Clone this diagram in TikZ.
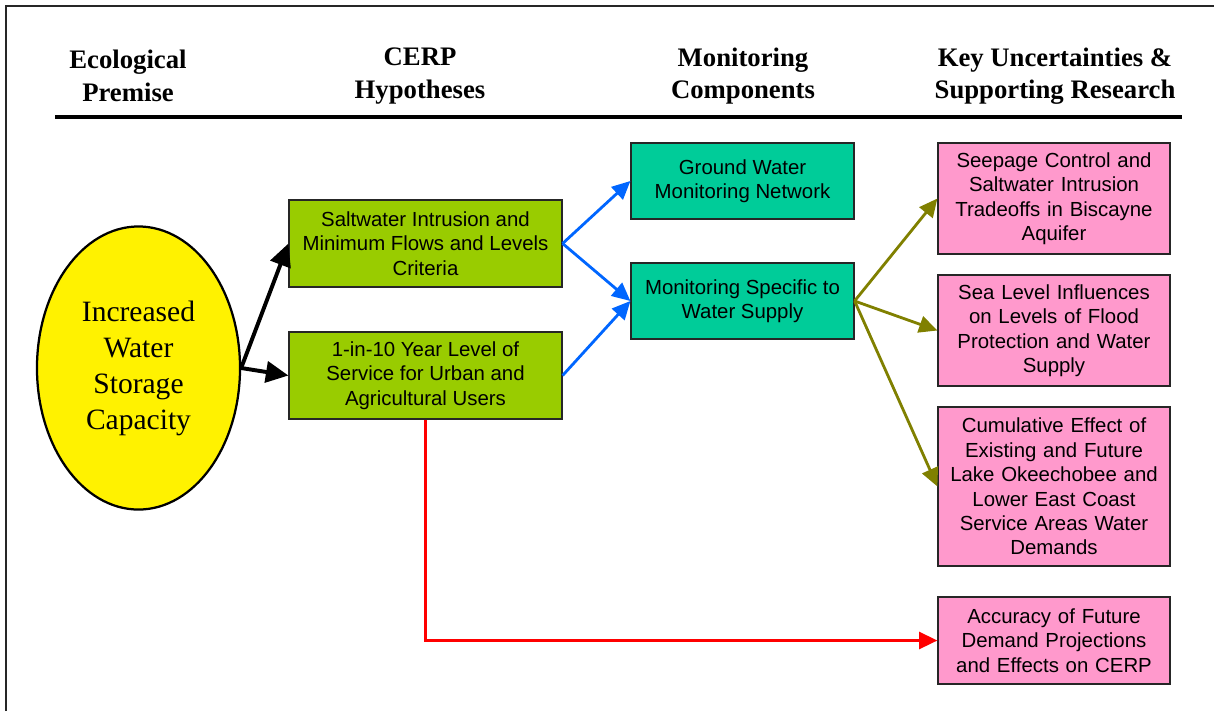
\documentclass[tikz,border=0pt]{standalone}
\usepackage{fontspec}
\setmainfont{Liberation Serif}
\setsansfont{Liberation Sans}
\usetikzlibrary{positioning}
\usetikzlibrary{shapes.geometric}
\usetikzlibrary{arrows.meta}
\usetikzlibrary{calc}

\definecolor{hypgreen}{RGB}{153,204,0}
\definecolor{monteal}{RGB}{0,204,153}
\definecolor{keypink}{RGB}{255,153,204}
\definecolor{arrblue}{RGB}{0,102,255}
\definecolor{arrolive}{RGB}{128,128,0}

\begin{document}
\begin{tikzpicture}[x=0.025cm, y=-0.025cm,
    head/.style={font=\fontsize{19}{23}\selectfont\bfseries, align=center},
    box/.style={draw=black!85, line width=0.8pt, align=center, inner sep=2pt,
                font=\sffamily\fontsize{14.5}{17.4}\selectfont},
    hyp/.style={box, fill=hypgreen, minimum width=6.825cm, minimum height=2.175cm},
    mon/.style={box, fill=monteal, minimum width=5.575cm, minimum height=1.9cm},
    key/.style={box, fill=keypink, minimum width=5.8cm, text width=5.5cm},
    blackarr/.style={-{Triangle[length=16pt,width=15pt]}, line width=2.8pt, black},
    bluearr/.style={-{Triangle[length=13pt,width=12pt]}, line width=2pt, arrblue},
    olivearr/.style={-{Triangle[length=13pt,width=12pt]}, line width=2pt, arrolive},
    redarr/.style={-{Triangle[length=13pt,width=12pt]}, line width=2pt, red}]
%     \draw[help lines](0,0) grid (1214,711);

    \useasboundingbox (0,0) rectangle (1214,711);
    \draw[line width=1.2pt, black!85] (6,711) -- (6,6) -- (1214,6);

    %%%% Headings %%%%

    \node (h1) [head] at (128,76) {Ecological\\Premise};
    \node (h2) [head] at (420,76) {CERP\\Hypotheses};
    \node (h3) [head] at (743,76) {Monitoring\\Components};
    \node (h4) [head] at (1055,76) {Key Uncertainties \&\\Supporting Research};
    \draw[line width=2.2pt] (55,117) -- (1182,117);

    %%%% Premise %%%%

    \node (prem) [ellipse, draw, line width=1.6pt, fill=yellow, inner sep=0pt,
        minimum width=5.075cm, minimum height=7.075cm, align=center,
        font=\fontsize{21}{25.6}\selectfont] at (138.5,368)
        {Increased\\Water\\Storage\\Capacity};

    %%%% Hypotheses %%%%

    \node (hyp1) [hyp] at (425.5,243.5) {Saltwater Intrusion and\\Minimum Flows and Levels\\Criteria};
    \node (hyp2) [hyp] at (425.5,375.5) {1-in-10 Year Level of\\Service for Urban and\\Agricultural Users};

    %%%% Monitoring %%%%

    \node (mon1) [mon] at (742.5,181) {Ground Water\\Monitoring Network};
    \node (mon2) [mon] at (742.5,301) {Monitoring Specific to\\Water Supply};

    %%%% Uncertainties %%%%

    \node (key1) [key, minimum height=2.775cm] at (1054,198.5)
        {Seepage Control and\\Saltwater Intrusion\\Tradeoffs in Biscayne\\Aquifer};
    \node (key2) [key, minimum height=2.775cm] at (1054,330.5)
        {Sea Level Influences\\on Levels of Flood\\Protection and Water\\Supply};
    \node (key3) [key, minimum height=3.975cm] at (1054,486.5)
        {Cumulative Effect of\\Existing and Future\\Lake Okeechobee and\\Lower East Coast\\Service Areas Water\\Demands};
    \node (key4) [key, minimum height=2.175cm] at (1054,640.5)
        {Accuracy of Future\\Demand Projections\\and Effects on CERP};

    %%%% Arrows %%%%

    \path[blackarr] (prem.east) edge (hyp1.west)
                    (prem.east) edge (hyp2.west);
    \path[bluearr] (hyp1.east) edge (mon1.west)
                   (hyp1.east) edge (mon2.west)
                   (hyp2.east) edge (mon2.west);
    \path[olivearr] (mon2.east) edge (key1.west)
                    (mon2.east) edge (key2.west)
                    (mon2.east) edge (key3.west);
    \draw[redarr] (hyp2.south) |- (key4.west);

\end{tikzpicture}
\end{document}
